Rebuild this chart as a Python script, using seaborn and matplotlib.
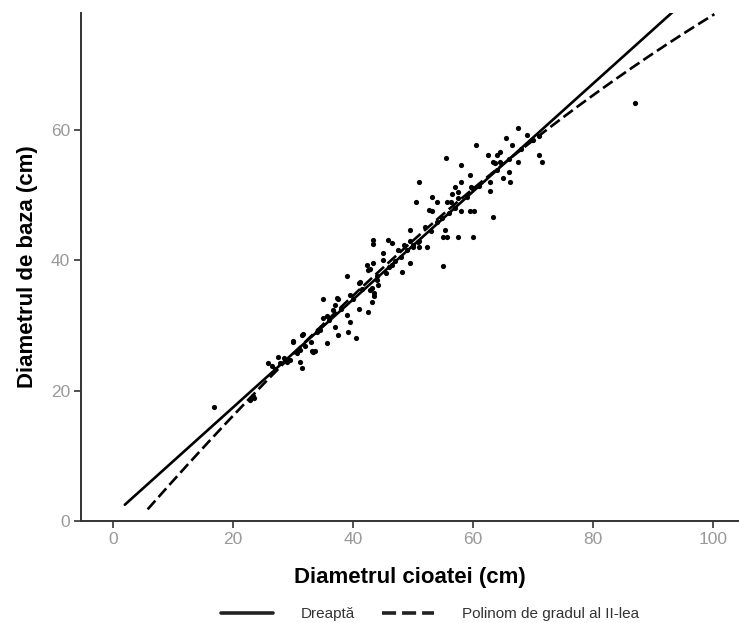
import numpy as np
import pandas as pd
import matplotlib
matplotlib.use("Agg")
import matplotlib.pyplot as plt
from matplotlib.lines import Line2D
import seaborn as sns

# Measured stump diameter (x) and base diameter (y), in cm
stump_cm = [
    16.8, 22.8, 23.3, 23.5, 25.8, 27.5, 27.8, 30.0, 31.5, 31.2, 31.5, 33.3, 30.7,
    29.5, 34.2, 29.0, 26.5, 28.5, 32.0, 33.0,
    42.3, 42.8, 39.0, 41.0, 35.0, 37.5, 39.5, 37.0, 41.0, 42.5, 43.2, 39.0, 35.0,
    37.0, 39.5, 34.5, 39.2, 37.5, 40.5, 31.7, 30.0, 35.7, 33.2, 33.7, 31.2, 42.8,
    43.5, 36.7, 35.7,
    50.5, 52.7, 49.5, 52.0, 43.3, 43.3, 45.8, 46.5, 45.0, 47.5, 45.0, 43.3, 42.5,
    46.5, 49.5, 48.2, 50.0, 51.0, 52.3, 49.5, 41.2, 44.0, 44.2, 43.2, 43.5, 37.3,
    45.5,
    55.5, 58.0, 62.5, 64.0, 63.3, 51.0, 59.5, 58.0, 57.0, 57.5, 56.5, 59.7, 53.2,
    54.0, 55.7, 56.3, 57.5, 53.2, 58.0, 59.5, 60.2, 62.8, 63.3, 54.8, 55.3, 55.0,
    55.7, 57.5, 60.0, 50.8, 48.5, 55.0,
    67.5, 65.5, 69.0, 69.8, 60.5, 66.5, 64.5, 63.7, 64.5, 67.5, 71.0, 71.5, 66.0,
    65.0, 66.2, 62.8, 59.8, 87.0,
    27.0, 34.0, 36.0, 38.0, 40.0, 41.5, 44.0, 46.0, 47.0, 48.0, 49.0, 50.0, 51.0,
    53.0, 54.0, 56.0, 57.0, 59.0, 61.0, 64.0, 66.0, 68.0, 70.0, 71.0,
]
base_cm = [
    17.5, 18.5, 19.2, 18.8, 24.2, 25.1, 24.2, 27.4, 28.5, 24.4, 23.4, 25.9, 25.7,
    24.7, 29.3, 24.4, 23.8, 25.0, 26.8, 27.5,
    39.2, 38.6, 37.5, 36.5, 34.0, 34.0, 34.6, 33.1, 32.5, 32.0, 33.6, 31.6, 31.1,
    29.7, 30.5, 29.3, 29.0, 28.5, 28.0, 28.7, 27.6, 27.3, 26.0, 26.0, 26.2, 35.4,
    34.5, 32.3, 31.5,
    48.9, 47.7, 44.6, 45.1, 43.1, 42.5, 43.1, 42.6, 41.1, 41.5, 40.0, 39.5, 38.5,
    39.2, 39.5, 38.2, 42.0, 42.0, 42.0, 43.0, 36.6, 37.0, 36.2, 35.7, 35.0, 34.2,
    38.0,
    55.6, 54.6, 56.1, 56.1, 55.0, 52.0, 53.0, 52.0, 51.2, 50.5, 50.1, 51.2, 49.7,
    48.9, 48.9, 48.9, 49.5, 47.5, 47.5, 47.5, 47.5, 50.6, 46.6, 46.4, 44.6, 43.5,
    43.5, 43.5, 43.5, 42.8, 42.3, 39.1,
    60.2, 58.7, 59.2, 58.4, 57.6, 57.6, 56.6, 54.9, 55.0, 55.0, 56.1, 55.0, 53.5,
    52.6, 52.0, 52.0, 51.0, 64.1,
    23.3, 29.0, 30.8, 32.5, 34.0, 35.5, 37.5, 39.0, 39.8, 40.5, 41.5, 42.3, 43.0,
    44.5, 45.8, 47.2, 48.0, 49.7, 51.3, 53.8, 55.5, 57.0, 58.5, 59.0,
]

# Fitted models: coefficients in increasing powers of x, and the x span drawn
linear_coef = [0.84, 0.828]
linear_span = [2.0, 96.0]
quad_coef = [-4.356, 1.0747, -0.002551]
quad_span = [5.8, 100.2]

legend_labels = ["Dreaptă", "Polinom de gradul al II-lea"]
x_ticks = [0, 20, 40, 60, 80, 100]
y_ticks = [0, 20, 40, 60]

sns.set_theme(style="ticks")
plt.rcParams["font.family"] = ["Liberation Sans", "DejaVu Sans"]

fig = plt.figure(figsize=(7.39, 6.23), dpi=100)
ax = fig.add_axes([81 / 739, 1 - 521 / 623, (739 - 81) / 739, (521 - 13) / 623])

points = pd.DataFrame({"stump": stump_cm, "base": base_cm})
sns.scatterplot(data=points, x="stump", y="base", ax=ax, color="black",
                s=14, linewidth=0, legend=False, zorder=3)

xl = np.linspace(*linear_span, 200)
yl = np.polynomial.polynomial.polyval(xl, linear_coef)
xq = np.linspace(*quad_span, 200)
yq = np.polynomial.polynomial.polyval(xq, quad_coef)

sns.lineplot(x=xl, y=yl, ax=ax, color="black", linewidth=1.9, sort=False, zorder=4)
sns.lineplot(x=xq, y=yq, ax=ax, color="black", linewidth=1.9, sort=False, zorder=4,
             dashes=False)
ax.lines[-1].set_dashes((4.4, 1.8))

ax.set_xlim(-5.3, 104.3)
ax.set_ylim(0, 77.9)
ax.set_xticks(x_ticks)
ax.set_yticks(y_ticks)

ax.set_xlabel("Diametrul cioatei (cm)", fontsize=16, fontweight="bold",
              color="black", labelpad=14)
ax.set_ylabel("Diametrul de baza (cm)", fontsize=16, fontweight="bold",
              color="black", labelpad=9)
ax.tick_params(axis="both", direction="out", length=5, width=1.2,
               colors="#333333", labelcolor="#999999", labelsize=12.5, pad=3)

for side in ("top", "right"):
    ax.spines[side].set_visible(False)
for side in ("left", "bottom"):
    ax.spines[side].set_color("#333333")
    ax.spines[side].set_linewidth(1.4)

handles = [
    Line2D([], [], color="#222222", linewidth=2.6),
    Line2D([], [], color="#222222", linewidth=2.6, dashes=(3.9, 1.65)),
]
fig.legend(handles, legend_labels, loc="center", ncol=2, frameon=False,
           bbox_to_anchor=(430 / 739, 9 / 623), fontsize=11,
           handlelength=3.4, handletextpad=1.8, columnspacing=1.8,
           labelcolor="#333333")

fig.savefig("out.png", dpi=100)
